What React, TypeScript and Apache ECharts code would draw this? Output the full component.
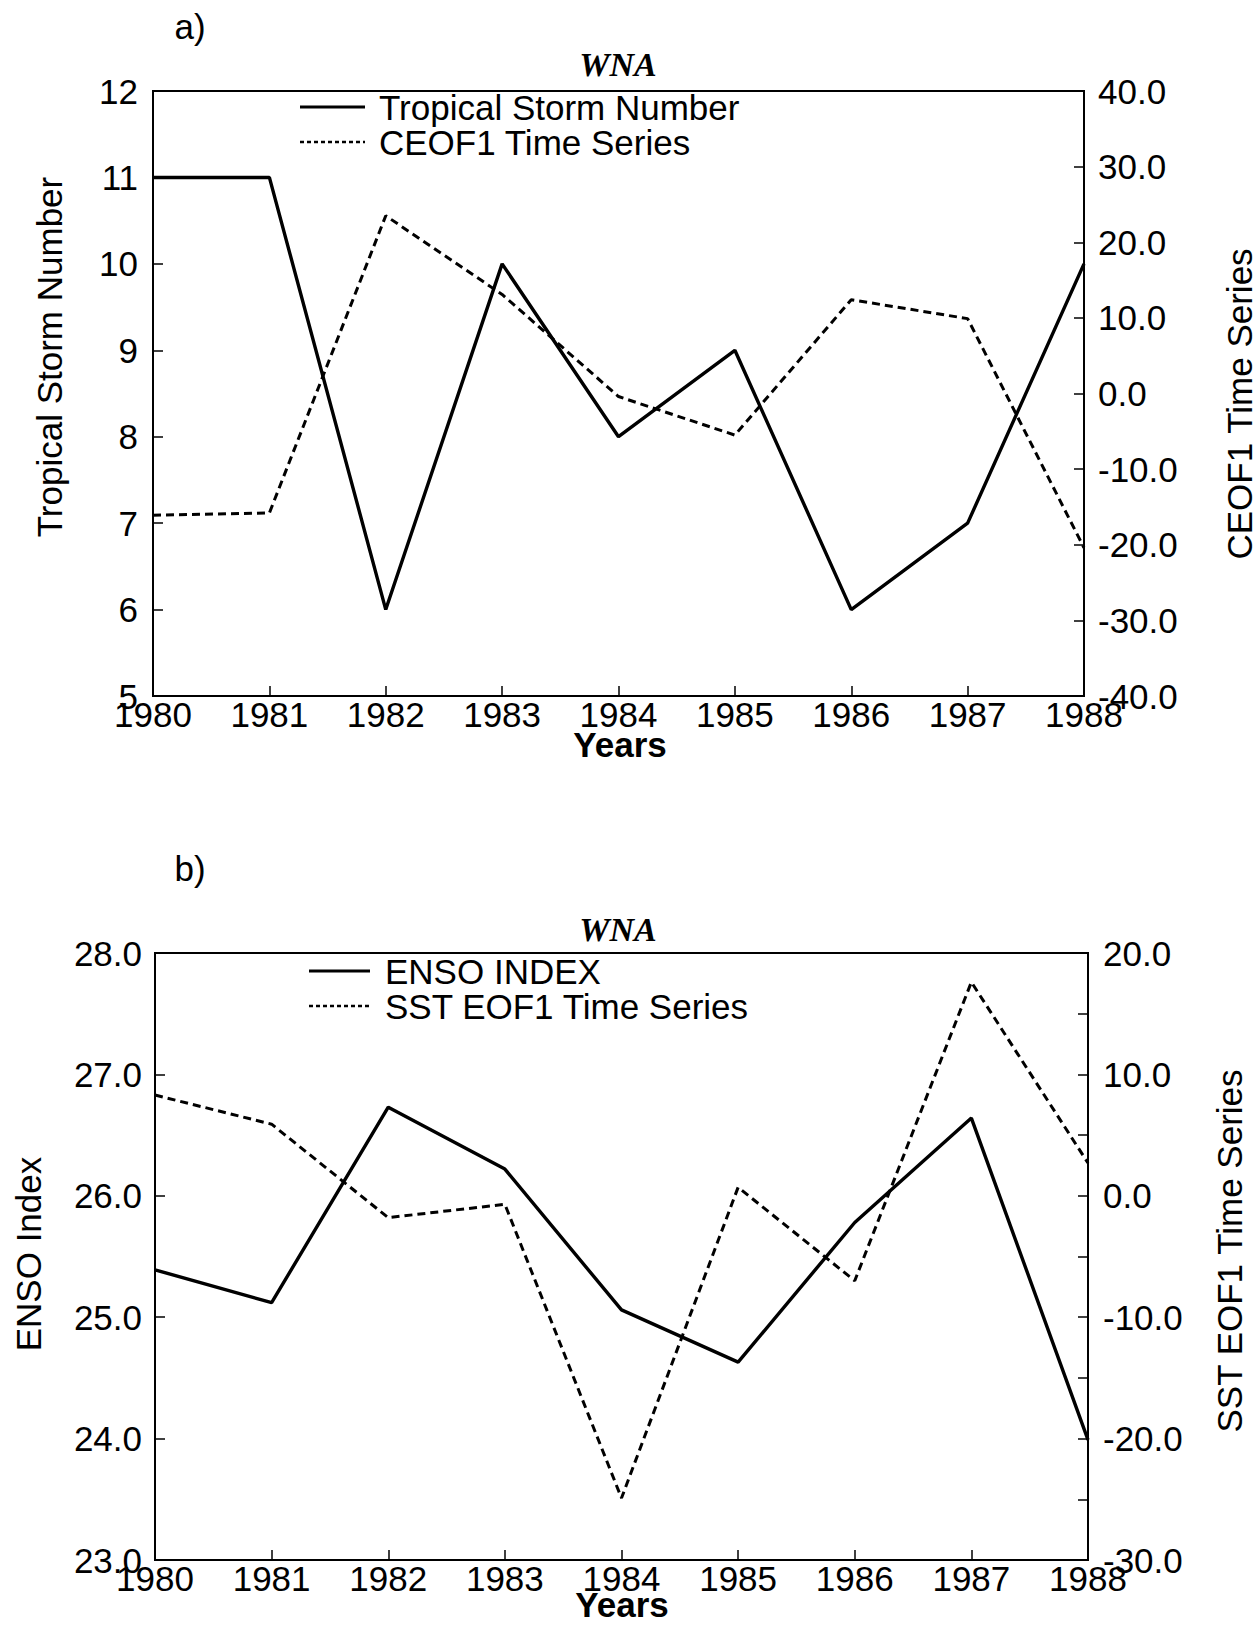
import React, { useEffect, useRef } from "react";
import * as echarts from "echarts";

const years = [1980, 1981, 1982, 1983, 1984, 1985, 1986, 1987, 1988];
const stormNumber = [11, 11, 6, 10, 8, 9, 6, 7, 10];
const ceof1 = [-16.1, -15.8, 23.5, 13.1, -0.4, -5.5, 12.4, 9.9, -20.4];
const ensoIndex = [25.39, 25.12, 26.73, 26.22, 25.06, 24.63, 25.78, 26.64, 23.99];
const sstEof1 = [8.3, 5.9, -1.8, -0.7, -24.9, 0.7, -7.0, 17.6, 2.7];

const FONT = "Liberation Sans";
const SERIF = "Liberation Serif";
const FS = 35;

function xAxisCfg(gridIndex: number) {
  return {
    gridIndex,
    type: "value",
    min: 1980,
    max: 1988,
    interval: 1,
    axisLine: { show: true, onZero: false, lineStyle: { color: "#000", width: 2 } },
    axisTick: { show: true, inside: true, length: 10, lineStyle: { color: "#000", width: 1.5 } },
    axisLabel: { color: "#000", fontSize: FS, fontFamily: FONT, margin: 1, formatter: (v: number) => String(v) },
    splitLine: { show: false },
  };
}

function yAxisCfg(gridIndex: number, min: number, max: number, interval: number, position: string, fmt: (v: number) => string, margin: number) {
  return {
    gridIndex,
    type: "value",
    min,
    max,
    interval,
    position,
    axisLine: { show: true, onZero: false, lineStyle: { color: "#000", width: 2 } },
    axisTick: { show: true, inside: true, length: 10, lineStyle: { color: "#000", width: 1.5 } },
    axisLabel: { color: "#000", fontSize: FS, fontFamily: FONT, margin, formatter: fmt },
    splitLine: { show: false },
  };
}

function txt(x: number, y: number, text: string, extra: any = {}, rotation = 0) {
  return {
    type: "text",
    x,
    y,
    rotation,
    style: {
      text,
      fill: "#000",
      fontSize: FS,
      fontFamily: FONT,
      textAlign: "center",
      textVerticalAlign: "middle",
      ...extra,
    },
  };
}

function legendLine(x1: number, x2: number, y: number, dashed: boolean) {
  return {
    type: "line",
    shape: { x1, y1: y, x2, y2: y },
    style: dashed
      ? { stroke: "#000", lineWidth: 2.5, lineDash: [4, 3] }
      : { stroke: "#000", lineWidth: 3 },
  };
}

export default function App() {
  const ref = useRef<HTMLDivElement>(null);
  useEffect(() => {
    document.body.style.margin = "0";
    const chart = echarts.init(ref.current!, null, { renderer: "svg" });
    const solid = { color: "#000", width: 3.4 };
    const dash = { color: "#000", width: 3, type: [8, 5] };
    chart.setOption({
      animation: false,
      backgroundColor: "#fff",
      grid: [
        { left: 153, top: 91, width: 931, height: 605, show: true, borderColor: "#000", borderWidth: 2, containLabel: false },
        { left: 155, top: 953, width: 933, height: 607, show: true, borderColor: "#000", borderWidth: 2, containLabel: false },
      ],
      xAxis: [xAxisCfg(0), xAxisCfg(1)],
      yAxis: [
        yAxisCfg(0, 5, 12, 1, "left", (v) => String(v), 15),
        yAxisCfg(0, -40, 40, 10, "right", (v) => v.toFixed(1), 14),
        yAxisCfg(1, 23, 28, 1, "left", (v) => v.toFixed(1), 13),
        yAxisCfg(1, -30, 20, 5, "right", (v) => (Math.abs(v % 10) < 1e-9 ? v.toFixed(1) : ""), 15),
      ],
      series: [
        { type: "line", xAxisIndex: 0, yAxisIndex: 0, symbol: "none", lineStyle: solid, data: years.map((y, i) => [y, stormNumber[i]]) },
        { type: "line", xAxisIndex: 0, yAxisIndex: 1, symbol: "none", lineStyle: dash, data: years.map((y, i) => [y, ceof1[i]]) },
        { type: "line", xAxisIndex: 1, yAxisIndex: 2, symbol: "none", lineStyle: solid, data: years.map((y, i) => [y, ensoIndex[i]]) },
        { type: "line", xAxisIndex: 1, yAxisIndex: 3, symbol: "none", lineStyle: dash, data: years.map((y, i) => [y, sstEof1[i]]) },
      ],
      graphic: [
        txt(190, 26, "a)"),
        txt(618, 64, "WNA", { fontFamily: SERIF, fontWeight: "bold", fontStyle: "italic", fontSize: 34 }),
        legendLine(300, 365, 107, false),
        txt(379, 107, "Tropical Storm Number", { textAlign: "left" }),
        legendLine(300, 365, 142, true),
        txt(379, 142, "CEOF1 Time Series", { textAlign: "left" }),
        txt(620, 744, "Years", { fontWeight: "bold" }),
        txt(49, 357, "Tropical Storm Number", {}, Math.PI / 2),
        txt(1239, 404, "CEOF1 Time Series", {}, Math.PI / 2),

        txt(190, 868, "b)"),
        txt(618, 929, "WNA", { fontFamily: SERIF, fontWeight: "bold", fontStyle: "italic", fontSize: 34 }),
        legendLine(309, 370, 971, false),
        txt(385, 971, "ENSO INDEX", { textAlign: "left" }),
        legendLine(309, 370, 1006, true),
        txt(385, 1006, "SST EOF1 Time Series", { textAlign: "left" }),
        txt(622, 1604, "Years", { fontWeight: "bold" }),
        txt(28, 1254, "ENSO Index", {}, Math.PI / 2),
        txt(1229, 1251, "SST EOF1 Time Series", {}, Math.PI / 2),
      ],
    });
    return () => chart.dispose();
  }, []);
  return <div ref={ref} style={{ width: 1260, height: 1625 }} />;
}
